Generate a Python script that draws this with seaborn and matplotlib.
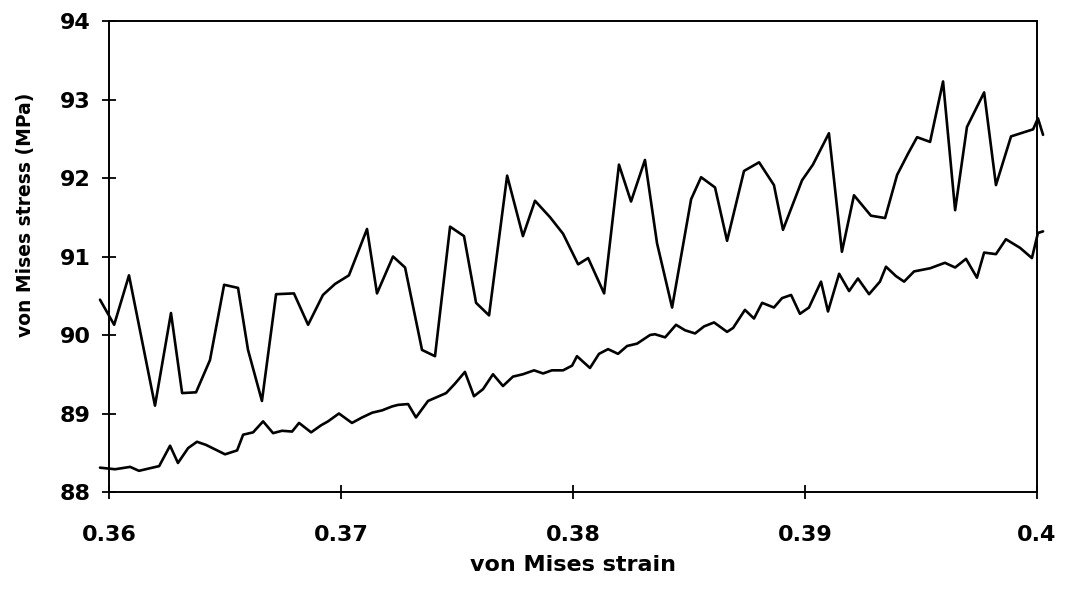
import matplotlib
matplotlib.use("Agg")
import matplotlib.pyplot as plt
import seaborn as sns
import pandas as pd

# Upper (fluctuating) stress response
strain_upper = [
    0.35961, 0.36022, 0.36086, 0.36198, 0.36267, 0.36315, 0.36375, 0.36435,
    0.36496, 0.36556, 0.36599, 0.36659, 0.36720, 0.36797, 0.36858, 0.36922,
    0.36974, 0.37034, 0.37112, 0.37155, 0.37224, 0.37276, 0.37349, 0.37405,
    0.37470, 0.37530, 0.37582, 0.37638, 0.37716, 0.37784, 0.37836, 0.37901,
    0.37957, 0.38022, 0.38065, 0.38134, 0.38198, 0.38250, 0.38310, 0.38362,
    0.38427, 0.38509, 0.38552, 0.38612, 0.38664, 0.38737, 0.38802, 0.38866,
    0.38905, 0.38987, 0.39034, 0.39103, 0.39159, 0.39211, 0.39284, 0.39345,
    0.39397, 0.39444, 0.39483, 0.39539, 0.39595, 0.39647, 0.39698, 0.39772,
    0.39823, 0.39888, 0.39983, 0.40004, 0.40026,
]
stress_upper = [
    90.45, 90.13, 90.76, 89.10, 90.28, 89.26, 89.27, 89.68,
    90.64, 90.60, 89.81, 89.16, 90.52, 90.53, 90.13, 90.51,
    90.65, 90.76, 91.35, 90.53, 91.00, 90.86, 89.81, 89.73,
    91.38, 91.26, 90.41, 90.25, 92.03, 91.26, 91.71, 91.50,
    91.29, 90.90, 90.98, 90.53, 92.17, 91.70, 92.23, 91.17,
    90.35, 91.73, 92.01, 91.88, 91.20, 92.09, 92.20, 91.91,
    91.34, 91.97, 92.17, 92.57, 91.06, 91.78, 91.52, 91.49,
    92.04, 92.31, 92.52, 92.46, 93.23, 91.59, 92.65, 93.09,
    91.91, 92.53, 92.62, 92.76, 92.55,
]

# Lower (steadily rising) stress response
strain_lower = [
    0.35961, 0.36026, 0.36091, 0.36129, 0.36216, 0.36263, 0.36297, 0.36341,
    0.36379, 0.36418, 0.36466, 0.36500, 0.36552, 0.36578, 0.36621, 0.36664,
    0.36707, 0.36746, 0.36789, 0.36819, 0.36871, 0.36914, 0.36944, 0.36991,
    0.37047, 0.37091, 0.37134, 0.37177, 0.37220, 0.37246, 0.37289, 0.37323,
    0.37375, 0.37414, 0.37453, 0.37491, 0.37534, 0.37573, 0.37612, 0.37655,
    0.37698, 0.37741, 0.37784, 0.37832, 0.37871, 0.37909, 0.37957, 0.37996,
    0.38017, 0.38073, 0.38112, 0.38151, 0.38194, 0.38233, 0.38276, 0.38332,
    0.38353, 0.38397, 0.38444, 0.38483, 0.38526, 0.38565, 0.38608, 0.38664,
    0.38690, 0.38741, 0.38780, 0.38815, 0.38866, 0.38901, 0.38940, 0.38978,
    0.39017, 0.39069, 0.39099, 0.39147, 0.39190, 0.39228, 0.39276, 0.39323,
    0.39349, 0.39392, 0.39427, 0.39470, 0.39539, 0.39603, 0.39647, 0.39694,
    0.39741, 0.39772, 0.39823, 0.39866, 0.39927, 0.39978, 0.40004, 0.40026,
]
stress_lower = [
    88.31, 88.29, 88.32, 88.27, 88.33, 88.59, 88.37, 88.56,
    88.64, 88.60, 88.53, 88.48, 88.53, 88.73, 88.76, 88.90,
    88.75, 88.78, 88.77, 88.88, 88.76, 88.85, 88.90, 89.00,
    88.88, 88.95, 89.01, 89.04, 89.09, 89.11, 89.12, 88.95,
    89.16, 89.21, 89.26, 89.38, 89.53, 89.22, 89.31, 89.50,
    89.35, 89.47, 89.50, 89.55, 89.51, 89.55, 89.55, 89.61,
    89.73, 89.58, 89.76, 89.82, 89.76, 89.86, 89.89, 90.00,
    90.01, 89.97, 90.13, 90.06, 90.02, 90.11, 90.16, 90.04,
    90.09, 90.32, 90.21, 90.41, 90.35, 90.47, 90.51, 90.27,
    90.35, 90.68, 90.30, 90.78, 90.56, 90.72, 90.52, 90.68,
    90.87, 90.75, 90.68, 90.81, 90.85, 90.92, 90.86, 90.97,
    90.73, 91.05, 91.03, 91.22, 91.11, 90.98, 91.30, 91.32,
]

x_ticks = [0.36, 0.37, 0.38, 0.39, 0.40]
x_tick_labels = ["0.36", "0.37", "0.38", "0.39", "0.4"]
y_ticks = [88, 89, 90, 91, 92, 93, 94]
y_tick_labels = ["88", "89", "90", "91", "92", "93", "94"]

sns.set_style("white")
plt.rcParams["font.family"] = ["DejaVu Sans"]
plt.rcParams["font.weight"] = "bold"

df_upper = pd.DataFrame({"strain": strain_upper, "stress": stress_upper})
df_lower = pd.DataFrame({"strain": strain_lower, "stress": stress_lower})

fig = plt.figure(figsize=(10.67, 5.95), dpi=100)
ax = fig.add_axes([0.1022, 0.1731, 0.8697, 0.7916])

for df in (df_upper, df_lower):
    sns.lineplot(data=df, x="strain", y="stress", ax=ax, color="black",
                 linewidth=1.9, estimator=None, sort=False, clip_on=False)

ax.set_xlim(0.36, 0.40)
ax.set_ylim(88, 94)
ax.set_xticks(x_ticks)
ax.set_xticklabels(x_tick_labels)
ax.set_yticks(y_ticks)
ax.set_yticklabels(y_tick_labels)

for spine in ax.spines.values():
    spine.set_visible(True)
    spine.set_color("black")
    spine.set_linewidth(1.4)

ax.tick_params(axis="both", which="major", direction="inout", length=10,
               width=1.3, color="black", labelcolor="black",
               bottom=True, left=True, top=False, right=False)
ax.tick_params(axis="x", pad=19, labelsize=16)
ax.tick_params(axis="y", pad=8, labelsize=16)
for lab in ax.get_xticklabels() + ax.get_yticklabels():
    lab.set_fontweight("bold")

ax.set_xlabel("von Mises strain", fontsize=16, fontweight="bold", color="black")
ax.set_ylabel("von Mises stress (MPa)", fontsize=13.5, fontweight="bold",
              color="black")
ax.xaxis.set_label_coords(0.5, -0.134)
ax.yaxis.set_label_coords(-0.0797, 0.588)

fig.savefig("out.png", dpi=100)
